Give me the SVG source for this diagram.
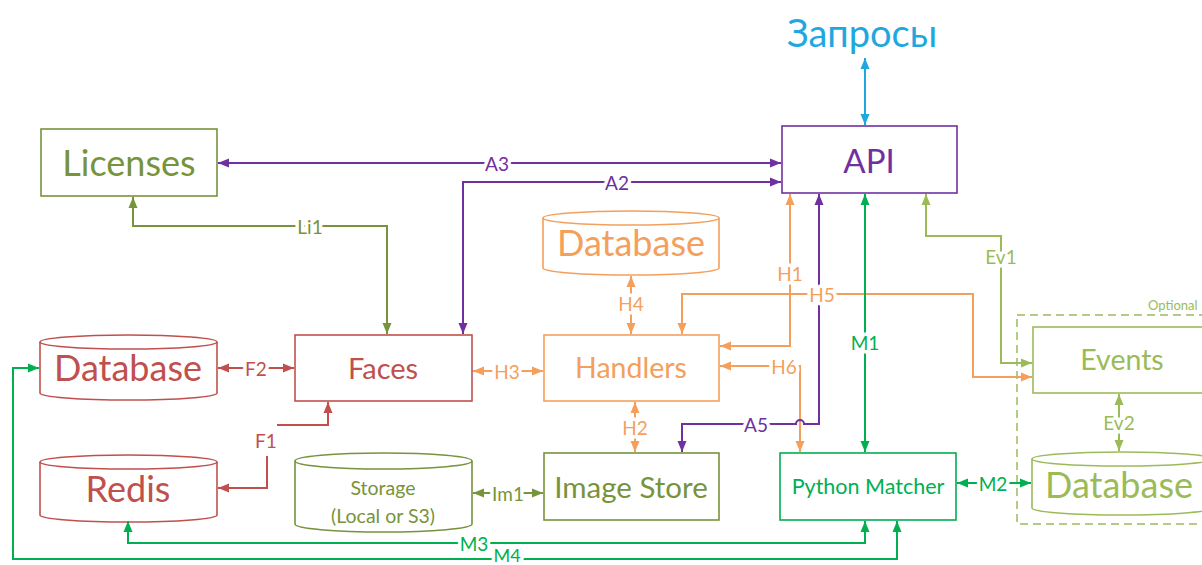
<svg xmlns="http://www.w3.org/2000/svg" width="1202" height="565" viewBox="0 0 1202 565">
<defs>
<style>
text{font-family:Lato,"Open Sans","Liberation Sans",sans-serif;text-anchor:middle;dominant-baseline:central}
.box{fill:#fff;stroke-width:1.6}
.ln{fill:none;stroke-width:2}
.lbl{font-size:19px;stroke:#fff;stroke-width:7px;paint-order:stroke;stroke-linejoin:round}
.olive{stroke:#77933C}.purple{stroke:#7030A0}.orange{stroke:#F4A05C}.red{stroke:#C0504D}.green{stroke:#00B050}.lgreen{stroke:#9BBB59}.cyan{stroke:#1FA8DF}
.tolive{fill:#77933C}.tpurple{fill:#7030A0}.torange{fill:#F4A05C}.tred{fill:#C0504D}.tgreen{fill:#00B050}.tlgreen{fill:#9BBB59}.tcyan{fill:#1FA8DF}
</style>
<marker id="mOlive" markerUnits="userSpaceOnUse" markerWidth="12" markerHeight="10" refX="11" refY="5" orient="auto-start-reverse"><path d="M0,0.5 L11,5 L0,9.5z" fill="#77933C"/></marker>
<marker id="mPurple" markerUnits="userSpaceOnUse" markerWidth="12" markerHeight="10" refX="11" refY="5" orient="auto-start-reverse"><path d="M0,0.5 L11,5 L0,9.5z" fill="#7030A0"/></marker>
<marker id="mOrange" markerUnits="userSpaceOnUse" markerWidth="12" markerHeight="10" refX="11" refY="5" orient="auto-start-reverse"><path d="M0,0.5 L11,5 L0,9.5z" fill="#F4A05C"/></marker>
<marker id="mRed" markerUnits="userSpaceOnUse" markerWidth="12" markerHeight="10" refX="11" refY="5" orient="auto-start-reverse"><path d="M0,0.5 L11,5 L0,9.5z" fill="#C0504D"/></marker>
<marker id="mGreen" markerUnits="userSpaceOnUse" markerWidth="12" markerHeight="10" refX="11" refY="5" orient="auto-start-reverse"><path d="M0,0.5 L11,5 L0,9.5z" fill="#00B050"/></marker>
<marker id="mLgreen" markerUnits="userSpaceOnUse" markerWidth="12" markerHeight="10" refX="11" refY="5" orient="auto-start-reverse"><path d="M0,0.5 L11,5 L0,9.5z" fill="#9BBB59"/></marker>
<marker id="mCyan" markerUnits="userSpaceOnUse" markerWidth="12" markerHeight="10" refX="11" refY="5" orient="auto-start-reverse"><path d="M0,0.5 L11,5 L0,9.5z" fill="#1FA8DF"/></marker>
</defs>
<rect width="1202" height="565" fill="#fff"/>

<g id="optional">
<rect x="1017" y="315" width="200" height="209" fill="none" stroke="#9BBB59" stroke-width="1.5" stroke-dasharray="8,5"/>
<text x="1148" y="305" class="tlgreen" style="font-size:13px;text-anchor:start">Optional</text>
</g>

<g id="zaprosy"><text x="862" y="32" class="tcyan" style="font-size:38px">Запросы</text></g>
<g id="api"><rect class="box purple" x="782" y="126" width="175" height="67"/><text x="869" y="160" class="tpurple" style="font-size:33px">API</text></g>
<g id="licenses"><rect class="box olive" x="41" y="129" width="176" height="67"/><text x="129" y="162" class="tolive" style="font-size:36px">Licenses</text></g>
<g id="db-handlers">
<path class="box orange" d="M543,218 A88,7 0 0 1 719,218 L719,268 A88,7 0 0 1 543,268 Z"/>
<path class="ln orange" style="stroke-width:1.6" d="M543,218 A88,7 0 0 0 719,218"/>
<text x="631" y="242" class="torange" style="font-size:36px">Database</text>
</g>
<g id="handlers"><rect class="box orange" x="544" y="335" width="175" height="66"/><text x="631" y="367" class="torange" style="font-size:28.5px">Handlers</text></g>
<g id="faces"><rect class="box red" x="295" y="335" width="177" height="66"/><text x="383" y="367" class="tred" style="font-size:29px">Faces</text></g>
<g id="db-faces">
<path class="box red" d="M40,342 A88,7 0 0 1 217,342 L217,393 A88,7 0 0 1 40,393 Z"/>
<path class="ln red" style="stroke-width:1.6" d="M40,342 A88,7 0 0 0 217,342"/>
<text x="128" y="367" class="tred" style="font-size:36px">Database</text>
</g>
<g id="redis">
<path class="box red" d="M40,462 A88,7 0 0 1 217,462 L217,515 A88,7 0 0 1 40,515 Z"/>
<path class="ln red" style="stroke-width:1.6" d="M40,462 A88,7 0 0 0 217,462"/>
<text x="128" y="488" class="tred" style="font-size:36px">Redis</text>
</g>
<g id="storage">
<path class="box olive" d="M295,461 A88,8 0 0 1 472,461 L472,524 A88,8 0 0 1 295,524 Z"/>
<path class="ln olive" style="stroke-width:1.6" d="M295,461 A88,8 0 0 0 472,461"/>
<text x="383" y="487" class="tolive" style="font-size:19.5px">Storage</text>
<text x="383" y="515" class="tolive" style="font-size:19.5px">(Local or S3)</text>
</g>
<g id="imagestore"><rect class="box olive" x="544" y="453" width="175" height="67"/><text x="631" y="486" class="tolive" style="font-size:29.5px">Image Store</text></g>
<g id="pymatcher"><rect class="box green" x="780" y="453" width="176" height="67"/><text x="868" y="486" class="tgreen" style="font-size:21.5px">Python Matcher</text></g>
<g id="events"><rect class="box lgreen" x="1033" y="327" width="180" height="66"/><text x="1122" y="359" class="tlgreen" style="font-size:28.5px">Events</text></g>
<g id="db-events">
<path class="box lgreen" d="M1032,459 A90,7 0 0 1 1212,459 L1212,508 A90,7 0 0 1 1032,508 Z"/>
<path class="ln lgreen" style="stroke-width:1.6" d="M1032,459 A90,7 0 0 0 1212,459"/>
<text x="1119" y="484" class="tlgreen" style="font-size:36px">Database</text>
</g>

<g id="connectors">
<path class="ln cyan" d="M865,58 L865,125" marker-start="url(#mCyan)" marker-end="url(#mCyan)"/>
<path class="ln purple" d="M218,163 L781,163" marker-start="url(#mPurple)" marker-end="url(#mPurple)"/>
<path class="ln purple" d="M463,334 L463,182 L781,182" marker-start="url(#mPurple)" marker-end="url(#mPurple)"/>
<path class="ln olive" d="M387,334 L387,226 L133,226 L133,197" marker-start="url(#mOlive)" marker-end="url(#mOlive)"/>
<path class="ln orange" d="M631,276 L631,334" marker-start="url(#mOrange)" marker-end="url(#mOrange)"/>
<path class="ln orange" d="M720,346 L790,346 L790,194" marker-start="url(#mOrange)" marker-end="url(#mOrange)"/>
<path class="ln orange" d="M682,334 L682,294 L973,294 L973,377 L1032,377" marker-start="url(#mOrange)" marker-end="url(#mOrange)"/>
<path class="ln orange" d="M720,366 L800,366 L800,452" marker-start="url(#mOrange)" marker-end="url(#mOrange)"/>
<path class="ln purple" d="M819,194 L819,424 L804,424 A4,4 0 0 0 796,424 L682,424 L682,452" marker-start="url(#mPurple)" marker-end="url(#mPurple)"/>
<path class="ln green" d="M865,194 L865,452" marker-start="url(#mGreen)" marker-end="url(#mGreen)"/>
<path class="ln lgreen" d="M926,194 L926,236 L1001,236 L1001,363 L1032,363" marker-start="url(#mLgreen)" marker-end="url(#mLgreen)"/>
<path class="ln lgreen" d="M1119,394 L1119,451" marker-start="url(#mLgreen)" marker-end="url(#mLgreen)"/>
<path class="ln green" d="M957,483 L1031,483" marker-start="url(#mGreen)" marker-end="url(#mGreen)"/>
<path class="ln red" d="M218,368 L294,368" marker-start="url(#mRed)" marker-end="url(#mRed)"/>
<path class="ln orange" d="M473,371 L543,371" marker-start="url(#mOrange)" marker-end="url(#mOrange)"/>
<path class="ln olive" d="M473,493 L543,493" marker-start="url(#mOlive)" marker-end="url(#mOlive)"/>
<path class="ln orange" d="M635,402 L635,452" marker-start="url(#mOrange)" marker-end="url(#mOrange)"/>
<path class="ln red" d="M277,425 L328,425 L328,402" marker-end="url(#mRed)"/>
<path class="ln red" d="M267,456 L267,488 L218,488" marker-end="url(#mRed)"/>
<path class="ln green" d="M128,521 L128,543 L865,543 L865,521" marker-start="url(#mGreen)" marker-end="url(#mGreen)"/>
<path class="ln green" d="M39,368 L13,368 L13,559 L897,559 L897,521" marker-start="url(#mGreen)" marker-end="url(#mGreen)"/>

<text class="lbl tpurple" x="497" y="163">A3</text>
<text class="lbl tpurple" x="617" y="182">A2</text>
<text class="lbl tolive" x="310" y="226">Li1</text>
<text class="lbl torange" x="631" y="303">H4</text>
<text class="lbl torange" x="790" y="273">H1</text>
<text class="lbl torange" x="822" y="294">H5</text>
<text class="lbl tgreen" x="865" y="342">M1</text>
<text class="lbl tlgreen" x="1001" y="256">Ev1</text>
<text class="lbl tred" x="256" y="368">F2</text>
<text class="lbl torange" x="507" y="371">H3</text>
<text class="lbl torange" x="784" y="366">H6</text>
<text class="lbl tred" x="266" y="440">F1</text>
<text class="lbl tpurple" x="756" y="424">A5</text>
<text class="lbl torange" x="635" y="427">H2</text>
<text class="lbl tlgreen" x="1119" y="422">Ev2</text>
<text class="lbl tgreen" x="993" y="483">M2</text>
<text class="lbl tolive" x="508" y="493">Im1</text>
<text class="lbl tgreen" x="474" y="543">M3</text>
<text class="lbl tgreen" x="507" y="555" style="font-size:18px">M4</text>
</g>
</svg>
